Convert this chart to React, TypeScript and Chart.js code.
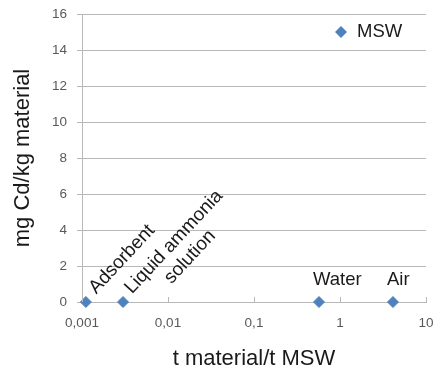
import React, { useEffect, useRef } from "react";
import { Chart, registerables } from "chart.js";

Chart.register(...registerables);

const seriesName = "MSW";
const materialNames = ["Adsorbent", "Liquid ammonia\nsolution", "Water", "Air"];
const xValues = [0.00111, 0.003, 0.57, 4.13]; // t material / t MSW
const yValues = [0, 0, 0, 0]; // mg Cd / kg material
const xTickValues = [0.001, 0.01, 0.1, 1, 10];
const yMin = 0;
const yMax = 16;
const yStep = 2;

const FONT = "'Liberation Sans', Arial, sans-serif";
const BLUE = "#4F81BD";
const GRID = "#b8b8b8";
const TICK_COLOR = "#595959";

// label placement styles (not data)
const labelStyle = [
  { rotate: -47, dx: 12.5, dy: 2.5, size: 19 },
  { rotate: -47, dx: 11.5, dy: 1.5, size: 19 },
  { rotate: 0, dx: -6, dy: -17, size: 18.5 },
  { rotate: 0, dx: -6, dy: -17, size: 18.5 },
];

const pointLabelPlugin = {
  id: "pointLabels",
  afterDatasetsDraw(chart: any) {
    const ctx = chart.ctx;
    const meta = chart.getDatasetMeta(0);
    ctx.save();
    ctx.fillStyle = "#1a1a1a";
    ctx.textBaseline = "alphabetic";
    meta.data.forEach((el: any, i: number) => {
      const st = labelStyle[i];
      const lines = materialNames[i].split("\n");
      ctx.save();
      ctx.font = `${st.size}px ${FONT}`;
      ctx.translate(el.x, el.y);
      if (st.rotate !== 0) {
        ctx.rotate((st.rotate * Math.PI) / 180);
        const w0 = ctx.measureText(lines[0]).width;
        const cx = st.dx + w0 / 2;
        lines.forEach((ln: string, k: number) => {
          const w = ctx.measureText(ln).width;
          ctx.textAlign = "left";
          ctx.fillText(ln, cx - w / 2, st.dy + k * 22);
        });
      } else {
        ctx.textAlign = "left";
        ctx.fillText(lines[0], st.dx, st.dy);
      }
      ctx.restore();
    });
    ctx.restore();
  },
};

const innerTicksPlugin = {
  id: "innerTicks",
  afterDraw(chart: any) {
    const ctx = chart.ctx;
    const xs = chart.scales.x;
    const bottom = chart.chartArea.bottom;
    ctx.save();
    ctx.strokeStyle = GRID;
    ctx.lineWidth = 1;
    xTickValues.forEach((v) => {
      const px = Math.round(xs.getPixelForValue(v)) + 0.5;
      ctx.beginPath();
      ctx.moveTo(px, bottom);
      ctx.lineTo(px, bottom - 5);
      ctx.stroke();
    });
    ctx.restore();
  },
};

const legendPlugin = {
  id: "insideLegend",
  afterDraw(chart: any) {
    const ctx = chart.ctx;
    const ds = chart.data.datasets[0];
    const x = 341;
    const y = 32;
    const r = 6;
    ctx.save();
    ctx.fillStyle = ds.backgroundColor;
    ctx.beginPath();
    ctx.moveTo(x, y - r);
    ctx.lineTo(x + r, y);
    ctx.lineTo(x, y + r);
    ctx.lineTo(x - r, y);
    ctx.closePath();
    ctx.fill();
    ctx.fillStyle = "#1a1a1a";
    ctx.font = `18.5px ${FONT}`;
    ctx.textAlign = "left";
    ctx.textBaseline = "middle";
    ctx.fillText(ds.label, 357, y);
    ctx.restore();
  },
};

export default function App() {
  const ref = useRef<HTMLCanvasElement>(null);
  useEffect(() => {
    document.body.style.margin = "0";
    const canvas = ref.current!;
    const chart = new Chart(canvas, {
      type: "scatter",
      data: {
        datasets: [
          {
            label: seriesName,
            data: xValues.map((x, i) => ({ x, y: yValues[i] })),
            backgroundColor: BLUE,
            borderColor: BLUE,
            pointStyle: "rectRot",
            pointRadius: 5.5,
            pointHoverRadius: 5.5,
            clip: false as any,
          },
        ],
      },
      options: {
        animation: false,
        responsive: false,
        devicePixelRatio: 1,
        layout: { padding: { top: 14, right: 8, left: 0, bottom: 0 } },
        plugins: {
          legend: { display: false },
          tooltip: { enabled: false },
        },
        scales: {
          x: {
            type: "logarithmic",
            min: 0.001,
            max: 10,
            afterBuildTicks: (s: any) => {
              s.ticks = xTickValues.map((v) => ({ value: v }));
            },
            afterFit: (s: any) => {
              s.height = 70;
              s.paddingLeft = 0;
              s.paddingRight = 0;
            },
            grid: { drawOnChartArea: false, drawTicks: false },
            border: { display: true, color: GRID },
            ticks: {
              autoSkip: false,
              maxRotation: 0,
              padding: 13,
              color: TICK_COLOR,
              font: { family: FONT, size: 13.5 },
              callback: (v: any) => String(v).replace(".", ","),
            },
            title: {
              display: true,
              text: "t material/t MSW",
              color: "#1a1a1a",
              font: { family: FONT, size: 22 },
              padding: { top: 0, bottom: 0 },
            },
          },
          y: {
            min: yMin,
            max: yMax,
            afterFit: (s: any) => {
              s.width = 82;
              s.paddingTop = 0;
              s.paddingBottom = 0;
            },
            grid: { color: GRID, tickLength: 5 },
            border: { display: true, color: GRID },
            ticks: {
              stepSize: yStep,
              padding: 10,
              color: TICK_COLOR,
              font: { family: FONT, size: 13.5 },
            },
            title: {
              display: true,
              text: "mg Cd/kg material",
              color: "#1a1a1a",
              font: { family: FONT, size: 22 },
              padding: { top: 10, bottom: 0 },
            },
          },
        },
      },
      plugins: [pointLabelPlugin, innerTicksPlugin, legendPlugin],
    });
    return () => chart.destroy();
  }, []);
  return (
    <div style={{ width: 434, height: 372 }}>
      <canvas ref={ref} width={434} height={372} style={{ display: "block" }} />
    </div>
  );
}
